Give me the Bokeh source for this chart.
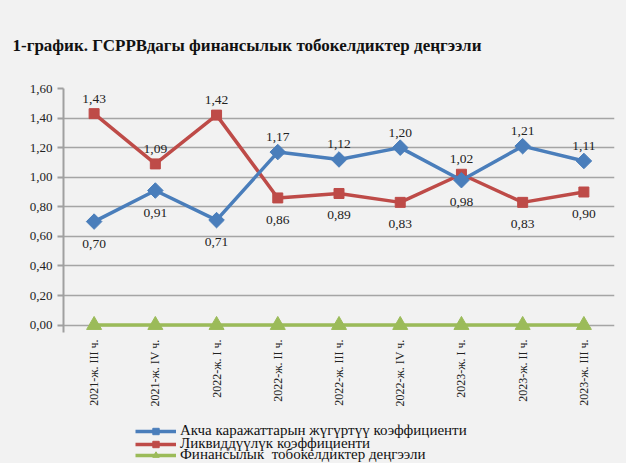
import math
from bokeh.plotting import figure
from bokeh.layouts import column
from bokeh.models import (FactorRange, Range1d, FixedTicker, CustomJSTickFormatter,
                          Legend, LegendItem)
from bokeh.core.properties import value
from bokeh.embed import file_html
from bokeh.resources import INLINE

title_text = "1-график.  ГСРРВдагы финансылык  тобокелдиктер  деңгээли"
categories = ["2021-ж. III ч.", "2021-ж. IV ч.", "2022-ж. I ч.", "2022-ж. II ч.",
              "2022-ж. III ч.", "2022-ж. IV ч.", "2023-ж. I ч.", "2023-ж. II ч.",
              "2023-ж. III ч."]
turnover = [0.70, 0.91, 0.71, 1.17, 1.12, 1.20, 0.98, 1.21, 1.11]
liquidity = [1.43, 1.09, 1.42, 0.86, 0.89, 0.83, 1.02, 0.83, 0.90]
risk_level = [0, 0, 0, 0, 0, 0, 0, 0, 0]
series_names = ["Акча каражаттарын жүгүртүү коэффициенти",
                "Ликвиддүүлүк коэффициенти",
                "Финансылык  тобокелдиктер деңгээли"]
y_ticks = [0.0, 0.2, 0.4, 0.6, 0.8, 1.0, 1.2, 1.4, 1.6]

BLUE = "#4a7ebb"
RED = "#be4b48"
GREEN = "#9bbb59"
BG = "#f2f2f2"
SERIF = "Liberation Serif"
TXT = "#222222"

p = figure(width=626, height=420, output_backend="svg", toolbar_location=None,
           x_range=FactorRange(*categories, range_padding=0),
           y_range=Range1d(-0.05, 1.6),
           min_border_left=63, min_border_right=12, min_border_top=88, min_border_bottom=88)
p.background_fill_color = BG
p.border_fill_color = BG
p.outline_line_color = None

p.title.text = title_text
p.title.text_font = SERIF
p.title.text_font_size = "17px"
p.title.text_font_style = "bold"
p.title.text_color = "#111111"
p.title.align = "left"
p.title.offset = -51
p.title.standoff = 67

# grid
p.xgrid.grid_line_color = None
p.ygrid.ticker = FixedTicker(ticks=y_ticks)
p.ygrid.grid_line_color = "#a5a5a5"
p.ygrid.grid_line_width = 1.5

# y axis
p.yaxis.ticker = FixedTicker(ticks=y_ticks)
p.yaxis.formatter = CustomJSTickFormatter(code="return tick.toFixed(2).replace('.', ',');")
p.yaxis.axis_line_color = "#a0a0a0"
p.yaxis.axis_line_width = 2
p.yaxis.major_tick_line_color = "#a0a0a0"
p.yaxis.major_tick_line_width = 2
p.yaxis.major_tick_out = 6
p.yaxis.major_tick_in = 0
p.yaxis.minor_tick_line_color = None
p.yaxis.major_label_text_font = SERIF
p.yaxis.major_label_text_font_size = "13px"
p.yaxis.major_label_text_color = TXT
p.yaxis.major_label_standoff = 5

# x axis
p.xaxis.axis_line_color = None
p.xaxis.major_tick_line_color = None
p.xaxis.minor_tick_line_color = None
p.xaxis.major_label_orientation = math.pi / 2
p.xaxis.major_label_text_font = SERIF
p.xaxis.major_label_text_font_size = "12px"
p.xaxis.major_label_text_color = TXT
p.xaxis.major_label_standoff = 1

styles = [
    dict(color=BLUE, marker="square", angle=math.pi / 4, size=11),
    dict(color=RED, marker="square", angle=0.0, size=10),
    dict(color=GREEN, marker="triangle", angle=0.0, size=15),
]
series = [turnover, liquidity, risk_level]

for vals, st in reversed(list(zip(series, styles))):
    p.line(categories, vals, line_color=st["color"], line_width=3.5)
    p.scatter(categories, vals, marker=st["marker"], angle=st["angle"], size=st["size"],
              fill_color=st["color"], line_color=st["color"])

# data labels: higher series labelled above, lower series below
ax, ay, at, bx, by, bt = [], [], [], [], [], []
for c, b, r in zip(categories, turnover, liquidity):
    hi, lo = (b, r) if b > r else (r, b)
    ax.append(c); ay.append(hi); at.append(f"{hi:.2f}".replace(".", ","))
    bx.append(c); by.append(lo); bt.append(f"{lo:.2f}".replace(".", ","))
p.text(x=ax, y=ay, text=at, y_offset=-11, text_align="center", text_baseline="bottom",
       text_font=value(SERIF), text_font_size="13.5px", text_color=TXT)
p.text(x=bx, y=by, text=bt, y_offset=18, text_align="center", text_baseline="top",
       text_font=value(SERIF), text_font_size="13.5px", text_color=TXT)

# legend strip below the chart (its frame is aligned with the chart frame)
lg = figure(width=626, height=43, output_backend="svg", toolbar_location=None,
            x_range=Range1d(0, 8), y_range=Range1d(10, 53),
            x_axis_type=None, y_axis_type=None,
            min_border_left=63, min_border_right=12, min_border_top=0, min_border_bottom=0)
lg.background_fill_color = BG
lg.border_fill_color = BG
lg.outline_line_color = None
lg.grid.visible = False

legend_rows = [24, 11, 0]
for name, vals, st, vy in zip(series_names, series, styles, legend_rows):
    # same data, kept outside the strip's visible range: only the legend glyph shows
    rl = lg.line(list(range(len(vals))), vals, line_color=st["color"], line_width=3.5)
    rm = lg.scatter(list(range(len(vals))), vals, marker=st["marker"], angle=st["angle"],
                    size=st["size"] - 3, fill_color=st["color"], line_color=st["color"])
    leg = Legend(items=[LegendItem(label=name, renderers=[rl, rm])], location=(72, vy))
    leg.background_fill_alpha = 0
    leg.border_line_color = None
    leg.label_text_font = "'Liberation Serif', serif"
    leg.label_text_font_size = "15px"
    leg.label_text_color = "#111111"
    leg.glyph_width = 41
    leg.glyph_height = 16
    leg.label_height = 16
    leg.spacing = 0
    leg.padding = 0
    leg.margin = 0
    leg.label_standoff = 4
    lg.add_layout(leg)

layout = column(p, lg, spacing=0)
html = file_html(layout, INLINE)
html = html.replace("<head>", "<head><style>body{background:#f2f2f2;}</style>", 1)
open("out.html", "w").write(html)
